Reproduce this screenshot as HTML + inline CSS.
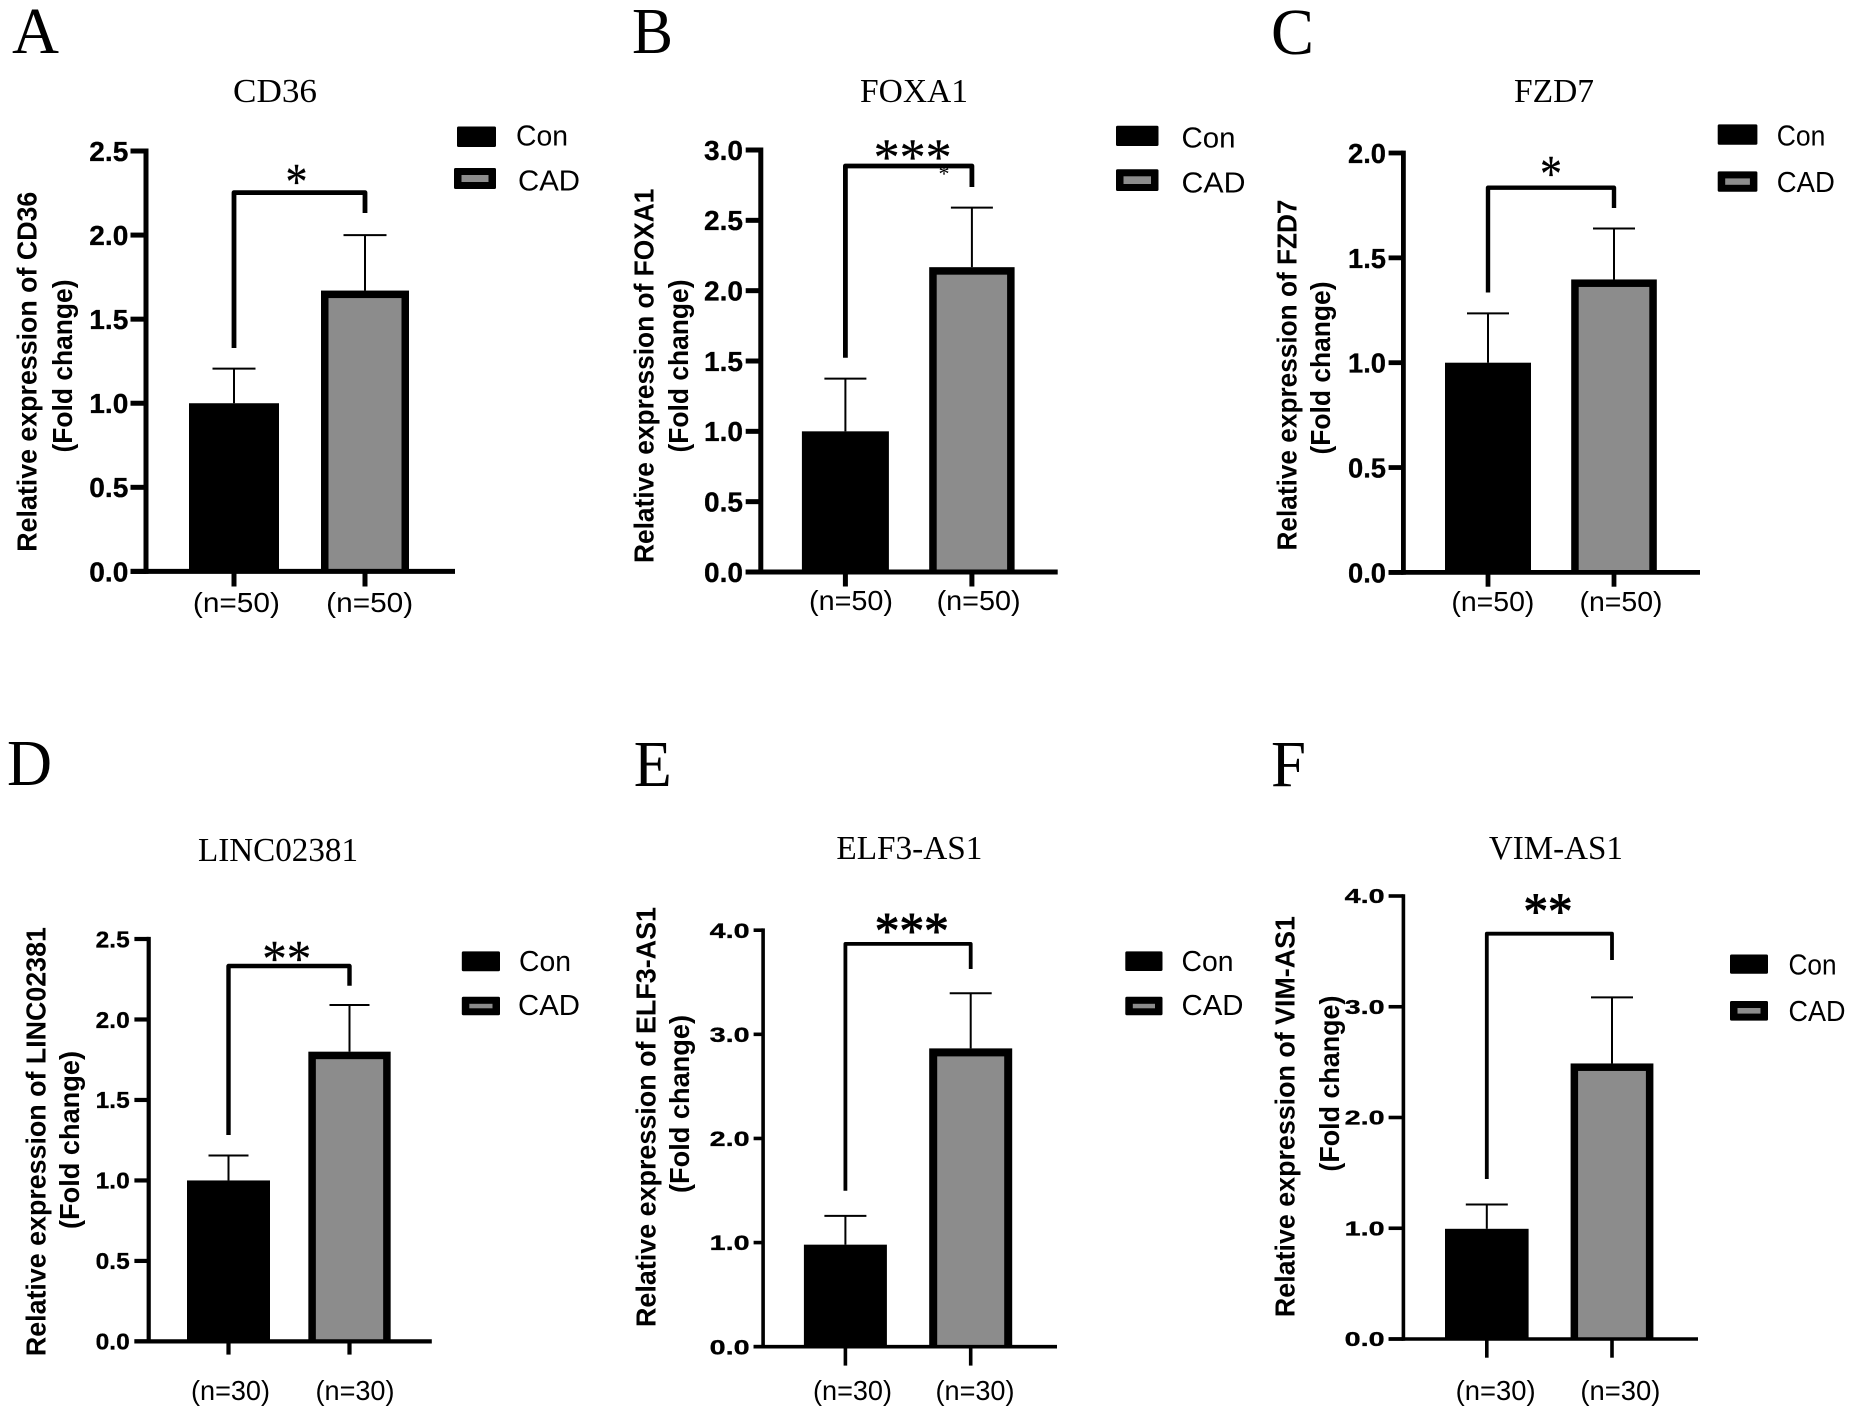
<!DOCTYPE html>
<html lang="en">
<head>
<meta charset="utf-8">
<title>Relative expression of CD36, FOXA1, FZD7, LINC02381, ELF3-AS1 and VIM-AS1</title>
<style>
  html, body { margin: 0; padding: 0; background: #ffffff; }
  svg { display: block; }
</style>
</head>
<body>
<svg id="figure" xmlns="http://www.w3.org/2000/svg" width="1850" height="1411" viewBox="0 0 1850 1411">
  <rect x="0" y="0" width="1850" height="1411" fill="#ffffff"></rect>
</svg>
<script>
// ---- Chart data ----
const categories = ['Con', 'CAD'];
const panelLetters = ['A', 'B', 'C', 'D', 'E', 'F'];
const geneTitles = ['CD36', 'FOXA1', 'FZD7', 'LINC02381', 'ELF3-AS1', 'VIM-AS1'];
const conMeans = [1.00, 1.00, 1.00, 1.00, 0.98, 0.995];
const cadMeans = [1.67, 2.167, 1.397, 1.80, 2.865, 2.488];
const conErrorTops = [1.206, 1.375, 1.235, 1.155, 1.257, 1.214];
const cadErrorTops = [2.00, 2.59, 1.64, 2.09, 3.394, 3.085];
const sampleSizes = [50, 50, 50, 30, 30, 30];
const significance = ['*', '***', '*', '**', '***', '**'];
const yTicksA = ['0.0', '0.5', '1.0', '1.5', '2.0', '2.5'];
const yTicksB = ['0.0', '0.5', '1.0', '1.5', '2.0', '2.5', '3.0'];
const yTicksC = ['0.0', '0.5', '1.0', '1.5', '2.0'];
const yTicksD = ['0.0', '0.5', '1.0', '1.5', '2.0', '2.5'];
const yTicksE = ['0.0', '1.0', '2.0', '3.0', '4.0'];
const yTicksF = ['0.0', '1.0', '2.0', '3.0', '4.0'];
const yTickSets = [yTicksA, yTicksB, yTicksC, yTicksD, yTicksE, yTicksF];

// ---- Page geometry for each panel (not data) ----
const layouts = [
  { x0:146, y0:571.4, yTop:151, tickL:130.5, xR:455, tickB:586.5, cx:[234,365], bw:[90,88], nCx:[236.4,369.7], nBase:612, nLen:87,
    titleCx:275, titleBase:102, titleLen:84, letterX:12, letterBase:53, letterLen:47,
    conSw:[457,126.5,39,20.5], cadSw:[454,168,42,21], conTx:[516,145.7,52], cadTx:[518,190.6,62],
    yb:348, top:192.6, yEnd:213, starCx:296.5, starCy:174.7, starLen:22, starBold:0.3,
    y1:[36.4,371.7,360], y2:[72,366,173], tickR:128.3, tickFont:27.5, tickLen:39, axisW:5, border:7.5, brW:4.8, capW:43 },
  { x0:760.8, y0:572, yTop:150, tickL:745.7, xR:1057.7, tickB:586.5, cx:[845.4,971.9], bw:[87,85.4], nCx:[851,978.6], nBase:610, nLen:84,
    titleCx:914, titleBase:102, titleLen:108, letterX:632, letterBase:53, letterLen:41,
    conSw:[1116,125.7,42.5,20.3], cadSw:[1116,169.3,42.5,21.7], conTx:[1181.5,147.7,54], cadTx:[1181.5,192.6,64],
    yb:357.8, top:166, yEnd:187, starCx:912.6, starCy:150, starLen:78, starBold:0.3,
    y1:[653.6,375.8,374.5], y2:[688,366,173], tickR:743, tickFont:27.5, tickLen:39, axisW:5, border:7.5, brW:4.8, capW:42 },
  { x0:1403.4, y0:572.4, yTop:153, tickL:1388.6, xR:1700, tickB:586.7, cx:[1488,1614], bw:[86,85.6], nCx:[1492.9,1621], nBase:610.8, nLen:83,
    titleCx:1554, titleBase:102, titleLen:80, letterX:1271, letterBase:54, letterLen:43,
    conSw:[1717.7,124.4,39.7,20.4], cadSw:[1717.7,171.4,39.7,20.4], conTx:[1776.8,145.7,48.6], cadTx:[1776.8,191.8,58],
    yb:292.5, top:187.7, yEnd:208, starCx:1551, starCy:166.5, starLen:22, starBold:0.3,
    y1:[1296.4,375,351], y2:[1330,368,173], tickR:1386, tickFont:27.5, tickLen:38, axisW:4.8, border:7.5, brW:4.4, capW:42 },
  { x0:148.7, y0:1341.4, yTop:939, tickL:134.4, xR:431.8, tickB:1354.6, cx:[228.5,349.5], bw:[83,82.3], nCx:[230.5,355], nBase:1400, nLen:79,
    titleCx:278, titleBase:861, titleLen:160, letterX:7, letterBase:785, letterLen:45,
    conSw:[461.8,951.4,38.2,19.8], cadSw:[461.8,996.8,38.2,18.5], conTx:[519,971,52], cadTx:[518,1015,62],
    yb:1135, top:966, yEnd:985.7, starCx:286.7, starCy:951.4, starLen:49, starBold:0.3,
    y1:[45.5,1141.6,429], y2:[79,1140,178], tickR:129.7, tickFont:23, tickLen:34, axisW:4.2, border:7.5, brW:4.4, capW:40 },
  { x0:763.1, y0:1346.7, yTop:930.2, tickL:753.6, xR:1057, tickB:1365.6, cx:[845.4,970.7], bw:[83,83], nCx:[852.5,975], nBase:1400, nLen:79,
    titleCx:909.4, titleBase:859, titleLen:146, letterX:633.8, letterBase:786, letterLen:38,
    conSw:[1125.3,951.4,37.2,19.6], cadSw:[1125.3,996.8,37.2,18.5], conTx:[1181.5,971,52], cadTx:[1181.5,1015,62],
    yb:1190.7, top:943.9, yEnd:969, starCx:911.8, starCy:923.6, starLen:74, starBold:1,
    y1:[655.6,1117,420], y2:[689,1104,178], tickR:749.7, tickFont:21, tickLen:40, axisW:3.6, border:8, brW:3.8, capW:42 },
  { x0:1403.4, y0:1339, yTop:896, tickL:1388.6, xR:1698, tickB:1357.7, cx:[1486.8,1612], bw:[83.6,82.8], nCx:[1495.6,1620.4], nBase:1400, nLen:80,
    titleCx:1555.9, titleBase:859, titleLen:134, letterX:1271, letterBase:786, letterLen:35,
    conSw:[1730,954.5,38,19.3], cadSw:[1730,1001,38,19.6], conTx:[1788.5,974.7,48], cadTx:[1788.5,1021,57],
    yb:1179, top:933.7, yEnd:960, starCx:1548, starCy:904, starLen:49, starBold:1,
    y1:[1294.5,1116.6,401], y2:[1339,1083.6,176], tickR:1384.7, tickFont:20, tickLen:40, axisW:3.6, border:7.5, brW:3.8, capW:42 }
];

const SVG_NS = 'http://www.w3.org/2000/svg';
const SANS = '"Liberation Sans", sans-serif';
const SERIF = '"Liberation Serif", serif';
const GREY = '#8c8c8c';
const figure = document.getElementById('figure');

function shape(parent, tag, props) {
  const node = document.createElementNS(SVG_NS, tag);
  Object.keys(props).forEach(function (k) { node.setAttribute(k, props[k]); });
  parent.appendChild(node);
  return node;
}

function label(parent, str, x, y, size, family, weight, anchor, len, vertical) {
  const node = document.createElementNS(SVG_NS, 'text');
  node.setAttribute('x', x);
  node.setAttribute('y', y);
  node.setAttribute('font-size', size);
  node.setAttribute('font-family', family);
  node.setAttribute('font-weight', weight);
  node.setAttribute('text-anchor', anchor);
  node.setAttribute('fill', '#000000');
  if (len) {
    node.setAttribute('textLength', len);
    node.setAttribute('lengthAdjust', 'spacingAndGlyphs');
  }
  if (vertical) node.setAttribute('transform', 'rotate(-90 ' + x + ' ' + y + ')');
  node.textContent = str;
  parent.appendChild(node);
  return node;
}

function embolden(node, amount) {
  node.setAttribute('stroke', '#000000');
  node.setAttribute('stroke-width', amount);
}

function drawPanel(i) {
  const L = layouts[i];
  const id = panelLetters[i].toLowerCase();
  const ticks = yTickSets[i];
  const yMax = parseFloat(ticks[ticks.length - 1]);
  const yScale = function (v) { return L.y0 - (v / yMax) * (L.y0 - L.yTop); };
  const means = [conMeans[i], cadMeans[i]];
  const errorTops = [conErrorTops[i], cadErrorTops[i]];

  const g = shape(figure, 'g', {});
  
  

  const letter = label(g, panelLetters[i], L.letterX, L.letterBase, 66, SERIF, 'normal', 'start', L.letterLen, false);
  
  

  const title = label(g, geneTitles[i], L.titleCx, L.titleBase, 34, SERIF, 'normal', 'middle', L.titleLen, false);
  
  

  const yTitle1 = label(g, 'Relative expression of ' + geneTitles[i], L.y1[0], L.y1[1], 28, SANS, 'bold', 'middle', L.y1[2], true);
  
  

  const yTitle2 = label(g, '(Fold change)', L.y2[0], L.y2[1], 28, SANS, 'bold', 'middle', L.y2[2], true);
  
  

  // Bars and error bars
  categories.forEach(function (cat, c) {
    const top = yScale(means[c]);
    const left = L.cx[c] - L.bw[c] / 2;
    const bar = shape(g, 'rect', {
      x: left,
      y: top,
      width: L.bw[c],
      height: L.y0 - top,
      fill: '#000000'
    });
    
    

    if (c === 1) {
      const barFill = shape(g, 'rect', {
        x: left + L.border,
        y: top + L.border,
        width: L.bw[c] - 2 * L.border,
        height: L.y0 - top - L.border,
        fill: GREY
      });
      
      
    }

    const errTop = yScale(errorTops[c]);
    const stem = shape(g, 'line', { x1: L.cx[c], x2: L.cx[c], y1: top, y2: errTop, stroke: '#000000', 'stroke-width': 2 });
    
    

    const cap = shape(g, 'line', { x1: L.cx[c] - L.capW / 2, x2: L.cx[c] + L.capW / 2, y1: errTop, y2: errTop, stroke: '#000000', 'stroke-width': 2 });
    
    

    const xTick = shape(g, 'line', { x1: L.cx[c], x2: L.cx[c], y1: L.y0, y2: L.tickB, stroke: '#000000', 'stroke-width': L.axisW });
    
    

    const nLabel = label(g, '(n=' + sampleSizes[i] + ')', L.nCx[c], L.nBase, 28, SANS, 'normal', 'middle', L.nLen, false);
    
    
  });

  // Axes
  const yAxis = shape(g, 'line', { x1: L.x0, x2: L.x0, y1: L.yTop - L.axisW / 2, y2: L.y0 + L.axisW / 2, stroke: '#000000', 'stroke-width': L.axisW });
  
  

  const xAxis = shape(g, 'line', { x1: L.tickL, x2: L.xR, y1: L.y0, y2: L.y0, stroke: '#000000', 'stroke-width': L.axisW });
  
  

  ticks.forEach(function (t) {
    const ty = yScale(parseFloat(t));
    const tick = shape(g, 'line', { x1: L.tickL, x2: L.x0, y1: ty, y2: ty, stroke: '#000000', 'stroke-width': L.axisW });
    
    

    const tickText = label(g, t, L.tickR, ty + L.tickFont * 0.36, L.tickFont, SANS, 'bold', 'end', L.tickLen, false);
    
    
    embolden(tickText, 0.3);
  });

  // Significance bracket and stars
  const bracket = shape(g, 'path', {
    d: 'M' + L.cx[0] + ' ' + L.yb + ' V' + L.top + ' H' + L.cx[1] + ' V' + L.yEnd,
    fill: 'none', stroke: '#000000', 'stroke-width': L.brW, 'stroke-linejoin': 'round'
  });
  
  

  const stars = label(g, significance[i], L.starCx, L.starCy + 24.4, 52, SERIF, 'normal', 'middle', L.starLen, false);
  
  
  embolden(stars, L.starBold);

  // Legend
  const conSwatch = shape(g, 'rect', { x: L.conSw[0], y: L.conSw[1], width: L.conSw[2], height: L.conSw[3], rx: 1.5, fill: '#000000' });
  
  

  const conText = label(g, categories[0], L.conTx[0], L.conTx[1], 28.5, SANS, 'normal', 'start', L.conTx[2], false);
  
  

  const cadSwatch = shape(g, 'rect', { x: L.cadSw[0], y: L.cadSw[1], width: L.cadSw[2], height: L.cadSw[3], rx: 1.5, fill: '#000000' });
  
  

  const cadInner = shape(g, 'rect', { x: L.cadSw[0] + 7.5, y: L.cadSw[1] + 7, width: L.cadSw[2] - 15, height: L.cadSw[3] - 14, fill: GREY });
  
  

  const cadText = label(g, categories[1], L.cadTx[0], L.cadTx[1], 28.5, SANS, 'normal', 'start', L.cadTx[2], false);
  
  
}

panelLetters.forEach(function (_, i) { drawPanel(i); });

// Small stray asterisk sitting under the panel B stars
const strayStar = label(figure, '*', 944, 181, 22, SERIF, 'normal', 'middle', null, false);


</script>
</body>
</html>
